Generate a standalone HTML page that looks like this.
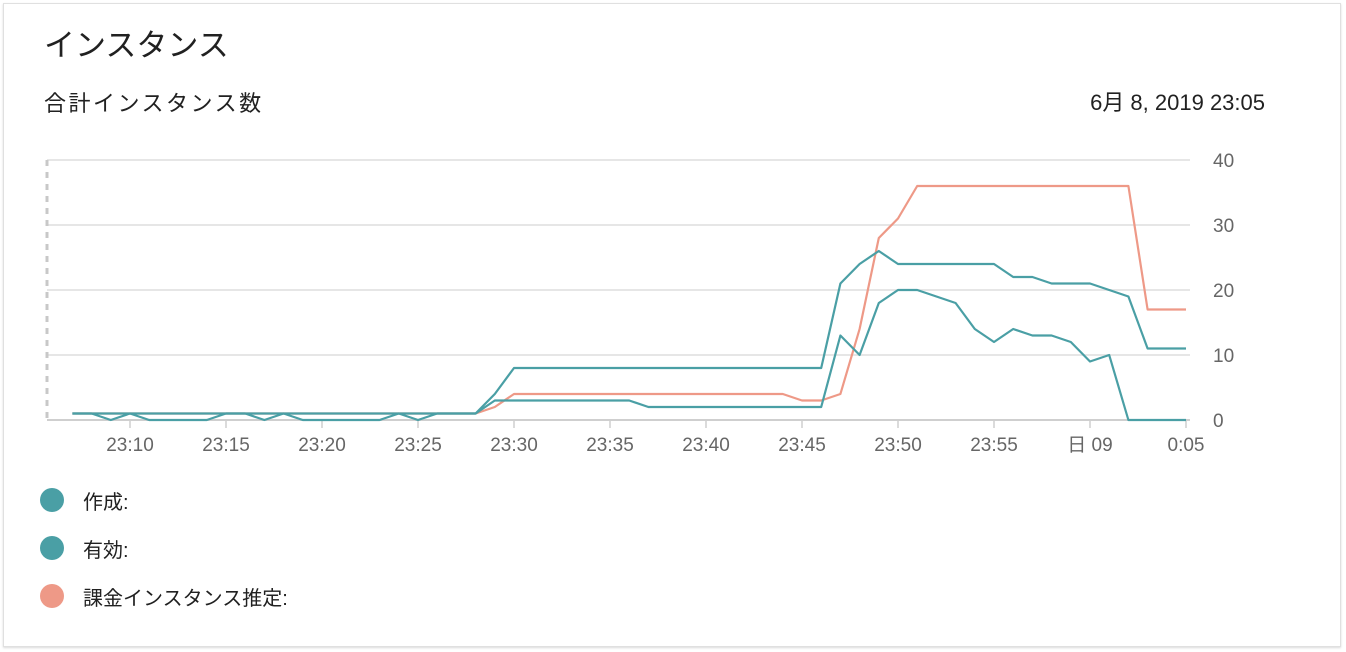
<!DOCTYPE html>
<html><head><meta charset="utf-8">
<style>
body{margin:0;width:1346px;height:652px;background:#fff;font-family:"Liberation Sans","Noto Sans CJK JP",sans-serif;overflow:hidden;position:relative}
.card{position:absolute;left:3px;top:3px;width:1338px;height:644px;border:1px solid #e0e0e0;box-sizing:border-box;box-shadow:0 1px 2px rgba(0,0,0,.15)}
.t{position:absolute;color:#212121;white-space:nowrap}
.dot{position:absolute;width:24px;height:24px;border-radius:50%}
</style></head><body>
<div class="card"></div>
<div class="t" style="left:44px;top:20px;font-size:31px">インスタンス</div>
<div class="t" style="left:44px;top:86px;font-size:22px;letter-spacing:2.5px">合計インスタンス数</div>
<div class="t" style="right:81px;top:85px;font-size:22px">6月 8, 2019 23:05</div>
<svg id="chart" width="1346" height="652" style="position:absolute;left:0;top:0"></svg>
<div class="dot" style="left:40px;top:488px;background:#4a9fa5"></div>
<div class="t" style="left:83px;top:486px;font-size:20px">作成:</div>
<div class="dot" style="left:40px;top:536px;background:#4a9fa5"></div>
<div class="t" style="left:83px;top:534px;font-size:20px">有効:</div>
<div class="dot" style="left:40px;top:584px;background:#ee9987"></div>
<div class="t" style="left:83px;top:582px;font-size:20px">課金インスタンス推定:</div>
<script>
const startMinute = 7;
const billing = [1,1,1,1,1,1,1,1,1,1,1,1,1,1,1,1,1,1,1,1,1,1,2,4,4,4,4,4,4,4,4,4,4,4,4,4,4,4,3,3,4,14,28,31,36,36,36,36,36,36,36,36,36,36,36,36,17,17,17];
const active = [1,1,1,1,1,1,1,1,1,1,1,1,1,1,1,1,1,1,1,1,1,1,4,8,8,8,8,8,8,8,8,8,8,8,8,8,8,8,8,8,21,24,26,24,24,24,24,24,24,22,22,21,21,21,20,19,11,11,11];
const created = [1,1,0,1,0,0,0,0,1,1,0,1,0,0,0,0,0,1,0,1,1,1,3,3,3,3,3,3,3,3,2,2,2,2,2,2,2,2,2,2,13,10,18,20,20,19,18,14,12,14,13,13,12,9,10,0,0,0,0];
const yTicks = [0,10,20,30,40];
const xTickMinutes = [10,15,20,25,30,35,40,45,50,55,60,65];
const xTickLabels = ["23:10","23:15","23:20","23:25","23:30","23:35","23:40","23:45","23:50","23:55","日 09","0:05"];

const svg = document.getElementById('chart');
const NS = 'http://www.w3.org/2000/svg';
const x = m => 130 + (m - 10) * 19.2;
const y = v => 420 - v * 6.5;
function mk(tag, attrs){const e=document.createElementNS(NS,tag);for(const k in attrs)e.setAttribute(k,attrs[k]);svg.appendChild(e);return e;}
yTicks.forEach(v=>{
  const g = mk('line',{x1:47,x2:1190,y1:y(v),y2:y(v),stroke:v===0?'#cfcfcf':'#e6e6e6','stroke-width':2});
  
  
  const t = mk('text',{x:1213,y:y(v)+7,'font-size':19,fill:'#666','font-family':'Liberation Sans, sans-serif'});
  t.textContent = v;
  
  
});
const ax = mk('line',{x1:47,x2:47,y1:160,y2:420,stroke:'#c8c8c8','stroke-width':3,'stroke-dasharray':'6,6'});


xTickMinutes.forEach((m,i)=>{
  const l = mk('line',{x1:x(m),x2:x(m),y1:420,y2:428,stroke:'#cfcfcf','stroke-width':1.5});
  
  
  const t = mk('text',{x:x(m),y:451,'font-size':19,fill:'#666','text-anchor':'middle','font-family':'Liberation Sans, Noto Sans CJK JP, sans-serif'});
  t.textContent = xTickLabels[i];
  
  
});
function line(arr,color,name){
  const pts = arr.map((v,i)=>x(startMinute+i).toFixed(1)+','+y(v).toFixed(1)).join(' ');
  const p = mk('polyline',{points:pts,fill:'none',stroke:color,'stroke-width':2.2,'stroke-linejoin':'round'});
  
  
}
line(billing,'#ee9987','series-billing');
line(active,'#4a9fa5','series-active');
line(created,'#4a9fa5','series-created');
</script>
</body></html>
